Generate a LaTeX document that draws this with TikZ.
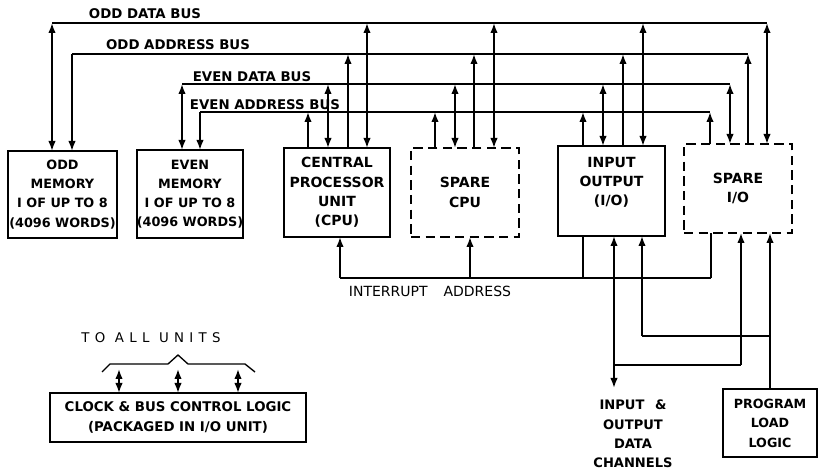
\documentclass[tikz,border=0pt]{standalone}
\usepackage{fontspec}
\setmainfont{DejaVu Sans}
\newfontfamily\spacedfont[LetterSpace=40]{DejaVu Sans}
\usetikzlibrary{arrows.meta}
\begin{document}
\begin{tikzpicture}[x=0.75pt,y=-0.75pt,
  line width=1.2pt,
  >={Latex[length=7.5pt,width=5.6pt]},
  box/.style={draw,line width=1.2pt,inner sep=0pt,outer sep=0pt,align=center,
    font=\bfseries\fontsize{10.5}{14.5}\selectfont},
  membox/.style={box,font=\bfseries\fontsize{9.6}{14.3}\selectfont},
  dbox/.style={box,dash pattern=on 7pt off 4pt},
  buslabel/.style={inner sep=0pt,font=\bfseries\fontsize{10}{12}\selectfont},
  plain/.style={inner sep=0pt,align=center,font=\bfseries\fontsize{9.8}{14.5}\selectfont}
]
\fill[white] (0,0) rectangle (818,470);
\useasboundingbox (0,0) rectangle (818,470);

% ---------- units ----------
\node[membox,minimum width=81.75pt,minimum height=65.25pt] (oddmem) at (62.5,194.5) {ODD\\MEMORY\\I OF UP TO 8\\(4096 WORDS)};
\node[membox,minimum width=79.5pt,minimum height=66pt] (evenmem) at (190,194) {EVEN\\MEMORY\\I OF UP TO 8\\(4096 WORDS)};
\node[box,minimum width=79.5pt,minimum height=66.75pt] (cpu) at (337,192.5) {CENTRAL\\PROCESSOR\\UNIT\\(CPU)};
\node[dbox,minimum width=81pt,minimum height=66.75pt] (sparecpu) at (465,192.5) {SPARE\\CPU};
\node[box,minimum width=80.25pt,minimum height=67.5pt] (io) at (611.5,191) {INPUT\\OUTPUT\\(I/O)\\~};
\node[dbox,minimum width=81pt,minimum height=66.75pt] (spareio) at (738,188.5) {SPARE\\I/O};
\node[box,font=\bfseries\fontsize{9.5}{14.6}\selectfont,minimum width=70.5pt,minimum height=51pt] (prog) at (770,423) {PROGRAM\\LOAD\\LOGIC};
\node[box,font=\bfseries\fontsize{10}{14.5}\selectfont,minimum width=192pt,minimum height=36.75pt] (clock) at (178,417.5) {CLOCK \& BUS CONTROL LOGIC\\(PACKAGED IN I/O UNIT)};

% ---------- bus labels ----------
\node[buslabel] (lodd) at (145,14) {ODD DATA BUS};
\node[buslabel] (loa) at (178,45) {ODD ADDRESS BUS};
\node[buslabel] (led) at (252,77) {EVEN DATA BUS};
\node[buslabel] (lea) at (265,105) {EVEN ADDRESS BUS};

% ---------- odd data bus ----------
\coordinate (odL) at (52,23); \coordinate (odR) at (767,23);
\draw (odL) -- (odR);
\draw[<->] (odL) -- (odL |- oddmem.north);
\draw[<->] (odR) -- (odR |- spareio.north);
\draw[<->] (367,0 |- odL) -- (367,0 |- cpu.north);
\draw[<->] (494,0 |- odL) -- (494,0 |- sparecpu.north);
\draw[<->] (643,0 |- odL) -- (643,0 |- io.north);

% ---------- odd address bus ----------
\coordinate (oaL) at (72,54); \coordinate (oaR) at (748,54);
\draw (oaL) -- (oaR);
\draw[->] (oaL) -- (oaL |- oddmem.north);
\draw[<-] (oaR) -- (oaR |- spareio.north);
\draw[<-] (348,0 |- oaL) -- (348,0 |- cpu.north);
\draw[<-] (474,0 |- oaL) -- (474,0 |- sparecpu.north);
\draw[<-] (623,0 |- oaL) -- (623,0 |- io.north);

% ---------- even data bus ----------
\coordinate (edL) at (182,84); \coordinate (edR) at (730,84);
\draw (edL) -- (edR);
\draw[<->] (edL) -- (edL |- evenmem.north);
\draw[<->] (edR) -- (edR |- spareio.north);
\draw[<->] (328,0 |- edL) -- (328,0 |- cpu.north);
\draw[<->] (455,0 |- edL) -- (455,0 |- sparecpu.north);
\draw[<->] (603,0 |- edL) -- (603,0 |- io.north);

% ---------- even address bus ----------
\coordinate (eaL) at (200,112); \coordinate (eaR) at (710,112);
\draw (eaL) -- (eaR);
\draw[->] (eaL) -- (eaL |- evenmem.north);
\draw[<-] (eaR) -- (eaR |- spareio.north);
\draw[<-] (308,0 |- eaL) -- (308,0 |- cpu.north);
\draw[<-] (435,0 |- eaL) -- (435,0 |- sparecpu.north);
\draw[<-] (583,0 |- eaL) -- (583,0 |- io.north);

% ---------- interrupt address ----------
\coordinate (irL) at (340,278); \coordinate (irR) at (711,278);
\coordinate (irS) at (470,278); \coordinate (irI) at (583,278);
\draw (irL) -- (irR);
\draw[->] (irL) -- (irL |- cpu.south);
\draw[->] (irS) -- (irS |- sparecpu.south);
\draw (irI) -- (irI |- io.south);
\draw (irR) -- (irR |- spareio.south);
\node[inner sep=0pt,font=\fontsize{10.5}{12}\selectfont] (lint) at (430,291) {INTERRUPT\hspace{12pt}ADDRESS};

% ---------- data channels ----------
\coordinate (ch) at (614,388);
\coordinate (chA) at (614,365); \coordinate (chB) at (741,365);
\draw[<->] (ch) -- (ch |- io.south);
\draw (chA) -- (chB);
\draw[->] (chB) -- (chB |- spareio.south);
\node[plain] (lch) at (633,434) {INPUT\hspace{8pt}\&\\OUTPUT\\DATA\\CHANNELS};

% ---------- program load ----------
\coordinate (plA) at (642,336); \coordinate (plB) at (770,336);
\draw (plA) -- (plB);
\draw[->] (plA) -- (plA |- io.south);
\draw[->] (prog.north) -- (prog.north |- spareio.south);

% ---------- clock ----------
\foreach \x in {119,178,238} \draw[<->] (\x,369) -- (\x,0 |- clock.north);
\draw[line width=1pt] (102,372) -- (110,364) -- (168,364) -- (178,355) -- (188,364) -- (245,364) -- (255,372);
\node[inner sep=0pt,font=\spacedfont\fontsize{10}{12}\selectfont] (lall) at (151,338) {TO ALL UNITS};
\end{tikzpicture}
\end{document}
